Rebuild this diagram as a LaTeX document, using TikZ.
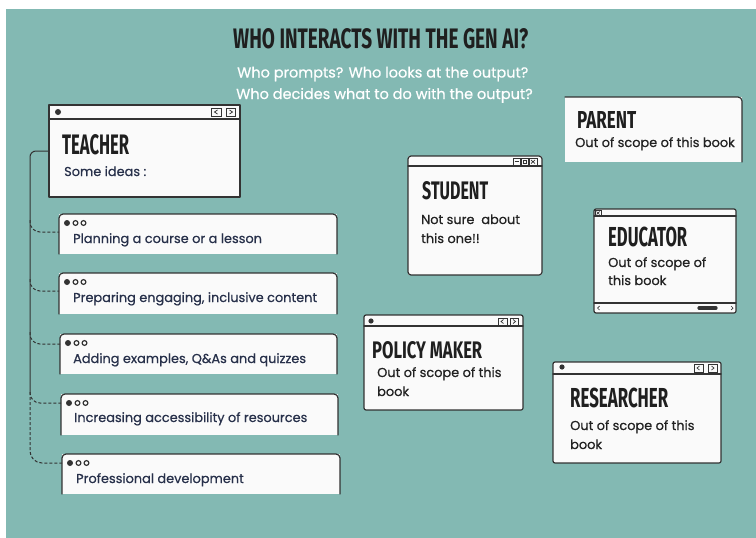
\documentclass[tikz,border=0pt]{standalone}
\usepackage{fontspec}
\usepackage{graphicx}
\setmainfont{Poppins}[FakeBold=0.6]
\newfontfamily\headfont{Fira Sans}
\definecolor{bgteal}{HTML}{83B9B3}
\definecolor{boxfill}{HTML}{FAFAFA}
\definecolor{ink}{HTML}{333333}
\definecolor{navy}{HTML}{27304A}
\definecolor{txt}{HTML}{222222}
\definecolor{headink}{HTML}{1F1F1F}
\newcommand{\hd}[3]{\resizebox{#1pt}{#2pt}{\headfont\bfseries #3}}
\newcommand{\ideadots}[1]{%
  \fill[ink] ([xshift=8pt,yshift=-9pt]#1.north west) circle (3pt);
  \draw[ink,line width=1.2pt] ([xshift=16.5pt,yshift=-9pt]#1.north west) circle (2.4pt);
  \draw[ink,line width=1.2pt] ([xshift=24.5pt,yshift=-9pt]#1.north west) circle (2.4pt);}
\begin{document}
\begin{tikzpicture}[x=1pt,y=-1pt,
  box/.style={fill=boxfill,draw=none,inner sep=0pt,outer sep=0pt,anchor=north west},
  edge/.style={draw=ink,line width=1.2pt,line join=round,line cap=round},
  thin/.style={draw=ink,line width=0.7pt},
  head/.style={inner sep=0pt,anchor=south west,text=headink},
  body/.style={inner sep=0pt,anchor=base west,text=txt,font=\fontsize{12.9}{15}\selectfont},
  navytext/.style={body,text=navy},
  subt/.style={inner sep=0pt,anchor=base west,text=white,font=\fontsize{14.5}{17}\selectfont},
  conn/.style={draw=ink,line width=1pt},
  dconn/.style={conn,dash pattern=on 3pt off 2pt}]
\useasboundingbox (0,0) rectangle (756,538);
\fill[white] (0,0) rectangle (756,538);
\fill[bgteal] (6,9) rectangle (756,538);

% title
\node[head] (title) at (233,49) {\hd{295}{20}{WHO INTERACTS WITH THE GEN AI?}};
\node[subt] (sub1) at (237,77.5) {Who prompts? Who looks at the output?};
\node[subt] (sub2) at (236,99) {Who decides what to do with the output?};

% teacher
\node[box,minimum width=191pt,minimum height=92pt] (teacher) at (49,105) {};
\draw[edge] (teacher.north west) rectangle (teacher.south east);
\draw[edge] ([yshift=-14pt]teacher.north west) -- ([yshift=-14pt]teacher.north east);
\fill[ink] (58,112) circle (3pt);
\draw[thin] (211,108) rectangle (221,116) (226,108) rectangle (235,116);
\draw[thin] (217.5,110) -- (214.5,112) -- (217.5,114) (229.5,110) -- (232.5,112) -- (229.5,114);
\node[head] (teachert) at (62,155) {\hd{67}{20}{TEACHER}};
\node[navytext] (ideas) at (64,176) {Some ideas :};

% idea boxes
\node[box,minimum width=278pt,minimum height=40pt] (idea1) at (59,214) {};
\node[box,minimum width=278pt,minimum height=41pt] (idea2) at (59,273) {};
\node[box,minimum width=277pt,minimum height=40pt] (idea3) at (60,334) {};
\node[box,minimum width=277pt,minimum height=41pt] (idea4) at (61,394) {};
\node[box,minimum width=278pt,minimum height=40pt] (idea5) at (62,454) {};
\foreach \n in {idea1,idea2,idea3,idea4,idea5}{
  \draw[edge,rounded corners=4pt] (\n.south west) -- (\n.north west) -- (\n.north east) -- (\n.south east);
  \ideadots{\n}
}
\node[navytext] (t1) at (73,243) {Planning a course or a lesson};
\node[navytext] (t2) at (73,302) {Preparing engaging, inclusive content};
\node[navytext] (t3) at (73,363) {Adding examples, Q\&As and quizzes};
\node[navytext] (t4) at (74,422) {Increasing accessibility of resources};
\node[navytext] (t5) at (76,483) {Professional development};

% connectors
\coordinate (trunkend) at (30,392);
\coordinate (b1) at (30,220);
\coordinate (b2) at (30,279);
\coordinate (b3) at (30,332);
\draw[conn,rounded corners=6pt] (teacher.west) -| (trunkend);
\draw[dconn,rounded corners=10pt] (b1) |- ([yshift=-18pt]idea1.north west);
\draw[dconn,rounded corners=10pt] (b2) |- ([yshift=-18pt]idea2.north west);
\draw[dconn,rounded corners=10pt] (b3) |- ([yshift=-10pt]idea3.north west);
\draw[dconn,rounded corners=10pt] (trunkend) |- ([yshift=-9pt]idea4.north west);
\draw[dconn,rounded corners=12pt] (trunkend) |- ([yshift=-9pt]idea5.north west);

% student
\node[box,minimum width=134pt,minimum height=119pt] (student) at (408,156) {};
\draw[edge,rounded corners=3pt] (student.north west) rectangle (student.south east);
\draw[edge] ([yshift=-10pt]student.north west) -- ([yshift=-10pt]student.north east);
\draw[thin] (513,158) rectangle (520,165) (521,158) rectangle (528,165) (529,158) rectangle (537,165);
\draw[thin] (514.5,161.5) -- (518.5,161.5);
\draw[thin] (523,160) rectangle (526,163.5);
\draw[thin] (531,160) -- (535,163.5) (531,163.5) -- (535,160);
\node[head] (studentt) at (422,200) {\hd{66}{18}{STUDENT}};
\node[body] (s1) at (421,224) {Not sure\ \ about};
\node[body] (s2) at (421,243) {this one!!};

% parent
\node[box,minimum width=177pt,minimum height=65pt] (parent) at (565,97) {};
\draw[edge,rounded corners=4pt] (parent.north west) -- (parent.north east) -- (parent.south east);
\node[head] (parentt) at (577,129) {\hd{59}{17}{PARENT}};
\node[body] (p1) at (575,147) {Out of scope of this book};

% educator
\node[box,minimum width=142pt,minimum height=104pt] (educator) at (594,209) {};
\draw[edge,rounded corners=2pt] (educator.north west) rectangle (educator.south east);
\draw[edge] ([yshift=-7pt]educator.north west) -- ([yshift=-7pt]educator.north east);
\draw[edge] ([yshift=-94pt]educator.north west) -- ([yshift=-94pt]educator.north east);
\draw[thin] (595,210) rectangle (601,216);
\draw[thin] (596.5,211.5) -- (599.5,214.5) (596.5,214.5) -- (599.5,211.5);
\draw[thin] (599.5,306) -- (597.5,308) -- (599.5,310) (731,306) -- (733,308) -- (731,310);
\draw[ink,line width=3.2pt,line cap=round] (699,308) -- (716,308);
\node[head] (educatort) at (608,247) {\hd{79}{19.5}{EDUCATOR}};
\node[body] (e1) at (608,267) {Out of scope of};
\node[body] (e2) at (608,285) {this book};

% policy maker
\node[box,minimum width=159pt,minimum height=95pt] (policy) at (364,315) {};
\draw[edge,rounded corners=2pt] (policy.north west) rectangle (policy.south east);
\draw[edge] ([yshift=-11pt]policy.north west) -- ([yshift=-11pt]policy.north east);
\fill[ink] (371,321) circle (2.6pt);
\draw[thin] (498,318) rectangle (507,325) (510,318) rectangle (518,325);
\draw[thin] (503.5,319.5) -- (501,321.5) -- (503.5,323.5) (513,319.5) -- (515.5,321.5) -- (513,323.5);
\node[head] (policyt) at (372,359) {\hd{110}{17}{POLICY MAKER}};
\node[body] (pm1) at (377,377) {Out of scope of this};
\node[body] (pm2) at (377,396) {book};

% researcher
\node[box,minimum width=168pt,minimum height=101pt] (researcher) at (553,362) {};
\draw[edge,rounded corners=2pt] (researcher.north west) rectangle (researcher.south east);
\draw[edge] ([yshift=-12pt]researcher.north west) -- ([yshift=-12pt]researcher.north east);
\fill[ink] (562,367) circle (2.6pt);
\draw[thin] (694,364) rectangle (703,372) (708,364) rectangle (717,372);
\draw[thin] (699.5,366) -- (697,368) -- (699.5,370) (711.5,366) -- (714,368) -- (711.5,370);
\node[head] (researchert) at (570,408.5) {\hd{98}{19.5}{RESEARCHER}};
\node[body] (r1) at (570,430) {Out of scope of this};
\node[body] (r2) at (570,449) {book};
\end{tikzpicture}
\end{document}
